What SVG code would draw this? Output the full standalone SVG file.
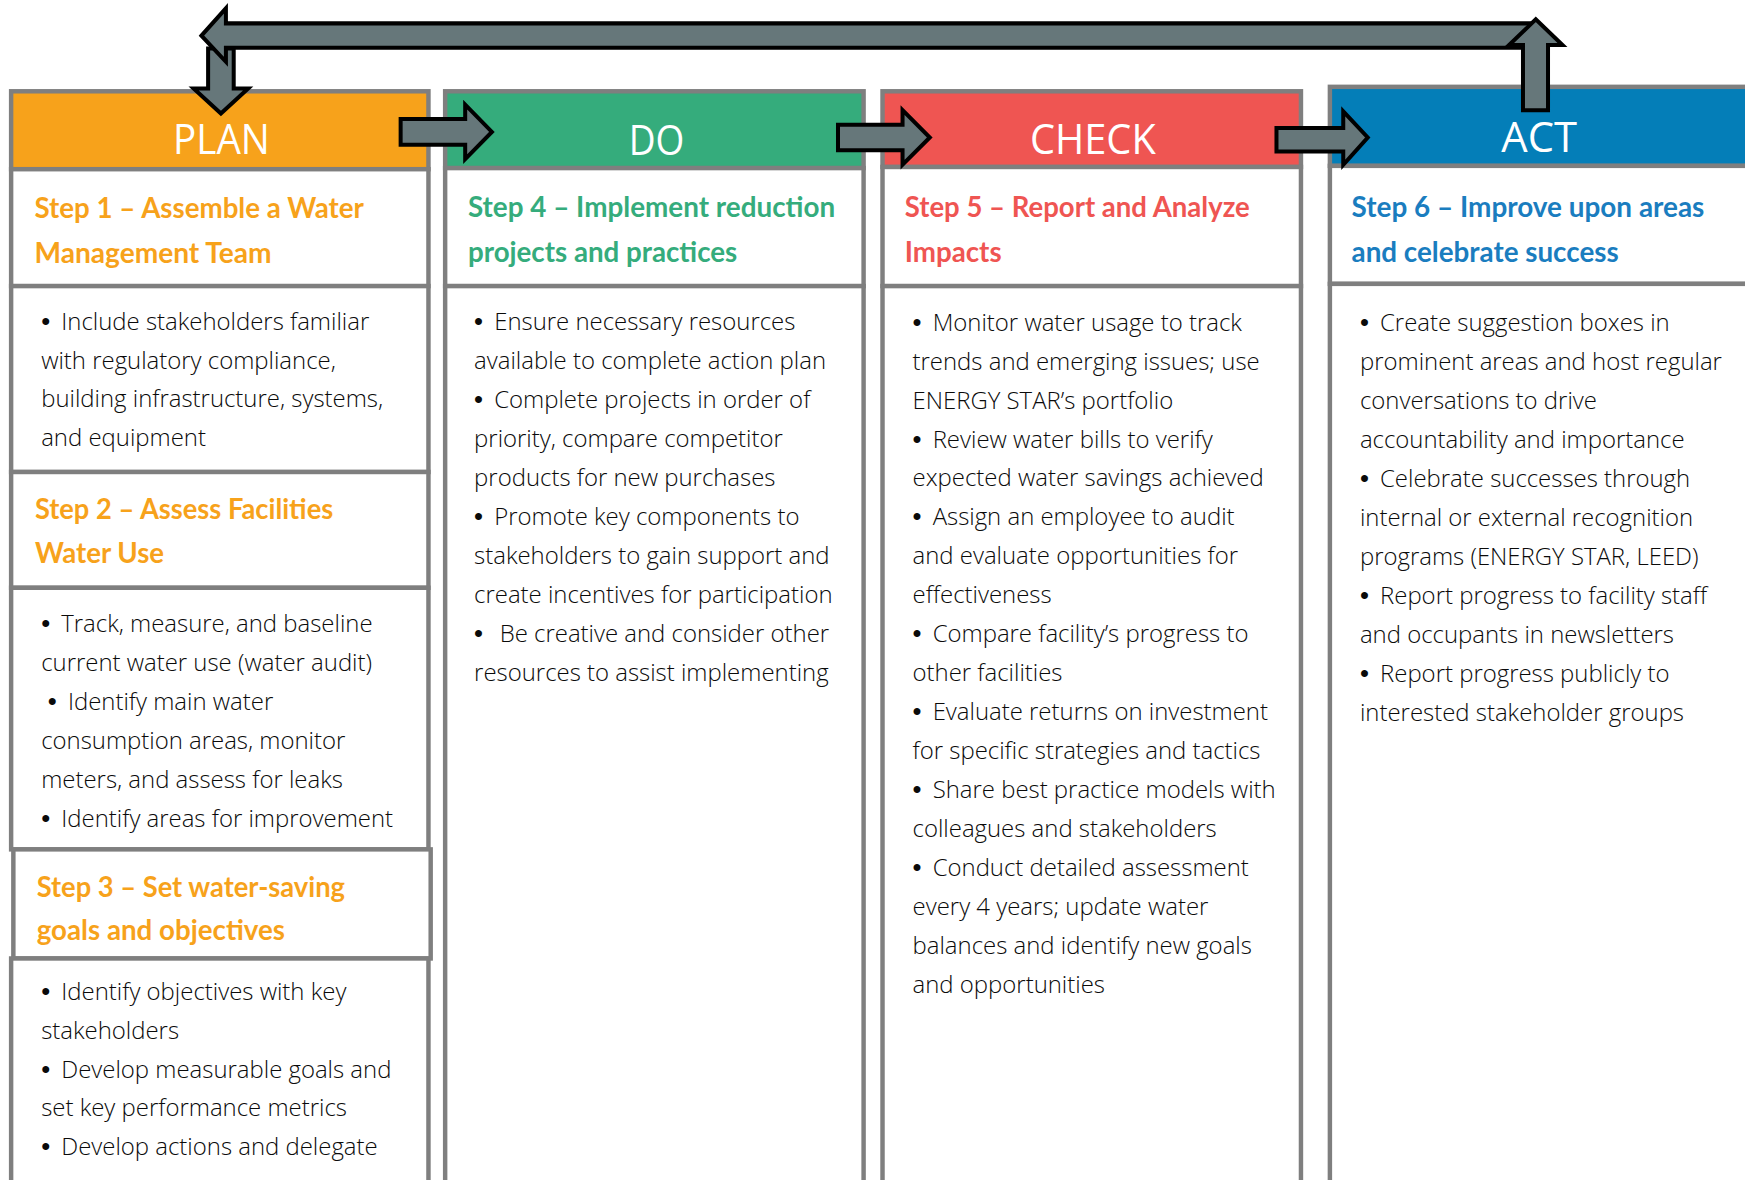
<svg xmlns="http://www.w3.org/2000/svg" width="1745" height="1180" viewBox="0 0 1745 1180">
<style>
.box{stroke:#7F7F7F;stroke-width:4;fill:#FFFFFF}
.hd{font-family:"Open Sans","Liberation Sans",sans-serif;font-size:38px;fill:#FFFFFF}
.st{font-family:Lato,"Liberation Sans",sans-serif;font-weight:700;font-size:25.5px}
.bd{font-family:"Open Sans","Liberation Sans",sans-serif;font-size:21.5px;font-weight:300;fill:#0A0A0A}
.bu{font-family:"Liberation Sans",Arial,sans-serif;font-size:23px;font-weight:400}
.arr{fill:#66777A;stroke:#000000;stroke-width:3.6;stroke-linejoin:miter}
.or{fill:#F7A21B}.gr{fill:#35AC7C}.rd{fill:#EF5552}.bl{fill:#1A7DBF}
</style>
<rect x="0" y="0" width="1745" height="1180" fill="#FFFFFF"/>
<g transform="scale(1.11288,1.11321)">
<g id="plan">
<rect class="box" x="10" y="82" width="375" height="70" style="fill:#F7A21B"/>
<rect class="box" x="10" y="152" width="375" height="105"/>
<rect class="box" x="10" y="257" width="375" height="167"/>
<rect class="box" x="10" y="424" width="375" height="104"/>
<rect class="box" x="10" y="528" width="375" height="235"/>
<rect class="box" x="12" y="763" width="375" height="98"/>
<rect class="box" x="10" y="861" width="375" height="205"/>
<text class="hd" x="155.5" y="138.5" textLength="87" lengthAdjust="spacingAndGlyphs">PLAN</text>
<text class="st or" x="31" y="196" textLength="296" lengthAdjust="spacingAndGlyphs">Step 1 – Assemble a Water</text>
<text class="st or" x="31" y="236.6" textLength="213" lengthAdjust="spacingAndGlyphs">Management Team</text>
<text class="bd" x="37" y="296.5"><tspan class="bu">•</tspan><tspan dx="10">Include stakeholders familiar</tspan></text>
<text class="bd" x="37" y="331.3">with regulatory compliance,</text>
<text class="bd" x="37" y="366">building infrastructure, systems,</text>
<text class="bd" x="37" y="400.8">and equipment</text>
<text class="st or" x="31.4" y="466.6" textLength="268" lengthAdjust="spacingAndGlyphs">Step 2 – Assess Facilities</text>
<text class="st or" x="31.4" y="506" textLength="116" lengthAdjust="spacingAndGlyphs">Water Use</text>
<text class="bd" x="37" y="567.6"><tspan class="bu">•</tspan><tspan dx="10">Track, measure, and baseline</tspan></text>
<text class="bd" x="37" y="602.6">current water use (water audit)</text>
<text class="bd" x="43" y="637.6"><tspan class="bu">•</tspan><tspan dx="10">Identify main water</tspan></text>
<text class="bd" x="37" y="672.6">consumption areas, monitor</text>
<text class="bd" x="37" y="707.6">meters, and assess for leaks</text>
<text class="bd" x="37" y="742.6"><tspan class="bu">•</tspan><tspan dx="10">Identify areas for improvement</tspan></text>
<text class="st or" x="33" y="805.5" textLength="277" lengthAdjust="spacingAndGlyphs">Step 3 – Set water-saving</text>
<text class="st or" x="33" y="844.5" textLength="223" lengthAdjust="spacingAndGlyphs">goals and objectives</text>
<text class="bd" x="37" y="898.4"><tspan class="bu">•</tspan><tspan dx="10">Identify objectives with key</tspan></text>
<text class="bd" x="37" y="933.2">stakeholders</text>
<text class="bd" x="37" y="968"><tspan class="bu">•</tspan><tspan dx="10">Develop measurable goals and</tspan></text>
<text class="bd" x="37" y="1002.8">set key performance metrics</text>
<text class="bd" x="37" y="1037.6"><tspan class="bu">•</tspan><tspan dx="10">Develop actions and delegate</tspan></text>
</g>
<g id="do">
<rect class="box" x="400" y="82" width="376" height="69" style="fill:#35AC7C"/>
<rect class="box" x="400" y="151" width="376" height="106"/>
<rect class="box" x="400" y="257" width="376" height="810"/>
<text class="hd" x="565" y="139" textLength="50" lengthAdjust="spacingAndGlyphs">DO</text>
<text class="st gr" x="420.5" y="195.3" textLength="330" lengthAdjust="spacingAndGlyphs">Step 4 – Implement reduction</text>
<text class="st gr" x="420.5" y="235" textLength="242" lengthAdjust="spacingAndGlyphs">projects and practices</text>
<text class="bd" x="426" y="296.5"><tspan class="bu">•</tspan><tspan dx="10">Ensure necessary resources</tspan></text>
<text class="bd" x="426" y="331.5">available to complete action plan</text>
<text class="bd" x="426" y="366.5"><tspan class="bu">•</tspan><tspan dx="10">Complete projects in order of</tspan></text>
<text class="bd" x="426" y="401.5">priority, compare competitor</text>
<text class="bd" x="426" y="436.5">products for new purchases</text>
<text class="bd" x="426" y="471.5"><tspan class="bu">•</tspan><tspan dx="10">Promote key components to</tspan></text>
<text class="bd" x="426" y="506.5">stakeholders to gain support and</text>
<text class="bd" x="426" y="541.5">create incentives for participation</text>
<text class="bd" x="426" y="576.5"><tspan class="bu">•</tspan><tspan dx="15">Be creative and consider other</tspan></text>
<text class="bd" x="426" y="611.5">resources to assist implementing</text>
</g>
<g id="check">
<rect class="box" x="793" y="82" width="376" height="68" style="fill:#EF5552"/>
<rect class="box" x="793" y="150" width="376" height="107"/>
<rect class="box" x="793" y="257" width="376" height="810"/>
<text class="hd" x="925.5" y="138.4" textLength="113" lengthAdjust="spacingAndGlyphs">CHECK</text>
<text class="st rd" x="813" y="195.3" textLength="310" lengthAdjust="spacingAndGlyphs">Step 5 – Report and Analyze</text>
<text class="st rd" x="813" y="235" textLength="87" lengthAdjust="spacingAndGlyphs">Impacts</text>
<text class="bd" x="820" y="297"><tspan class="bu">•</tspan><tspan dx="10">Monitor water usage to track</tspan></text>
<text class="bd" x="820" y="332">trends and emerging issues; use</text>
<text class="bd" x="820" y="367">ENERGY STAR’s portfolio</text>
<text class="bd" x="820" y="402"><tspan class="bu">•</tspan><tspan dx="10">Review water bills to verify</tspan></text>
<text class="bd" x="820" y="437">expected water savings achieved</text>
<text class="bd" x="820" y="472"><tspan class="bu">•</tspan><tspan dx="10">Assign an employee to audit</tspan></text>
<text class="bd" x="820" y="507">and evaluate opportunities for</text>
<text class="bd" x="820" y="542">effectiveness</text>
<text class="bd" x="820" y="577"><tspan class="bu">•</tspan><tspan dx="10">Compare facility’s progress to</tspan></text>
<text class="bd" x="820" y="612">other facilities</text>
<text class="bd" x="820" y="647"><tspan class="bu">•</tspan><tspan dx="10">Evaluate returns on investment</tspan></text>
<text class="bd" x="820" y="682">for specific strategies and tactics</text>
<text class="bd" x="820" y="717"><tspan class="bu">•</tspan><tspan dx="10">Share best practice models with</tspan></text>
<text class="bd" x="820" y="752">colleagues and stakeholders</text>
<text class="bd" x="820" y="787"><tspan class="bu">•</tspan><tspan dx="10">Conduct detailed assessment</tspan></text>
<text class="bd" x="820" y="822">every 4 years; update water</text>
<text class="bd" x="820" y="857">balances and identify new goals</text>
<text class="bd" x="820" y="892">and opportunities</text>
</g>
<g id="act">
<rect class="box" x="1195" y="78" width="380" height="71" style="fill:#047EB8"/>
<rect class="box" x="1195" y="149" width="380" height="106"/>
<rect class="box" x="1195" y="255" width="380" height="812"/>
<text class="hd" x="1349" y="136.3" textLength="68" lengthAdjust="spacingAndGlyphs">ACT</text>
<text class="st bl" x="1214.5" y="195" textLength="317" lengthAdjust="spacingAndGlyphs">Step 6 – Improve upon areas</text>
<text class="st bl" x="1214.5" y="235" textLength="240" lengthAdjust="spacingAndGlyphs">and celebrate success</text>
<text class="bd" x="1222" y="297.5"><tspan class="bu">•</tspan><tspan dx="10">Create suggestion boxes in</tspan></text>
<text class="bd" x="1222" y="332.5">prominent areas and host regular</text>
<text class="bd" x="1222" y="367.5">conversations to drive</text>
<text class="bd" x="1222" y="402.5">accountability and importance</text>
<text class="bd" x="1222" y="437.5"><tspan class="bu">•</tspan><tspan dx="10">Celebrate successes through</tspan></text>
<text class="bd" x="1222" y="472.5">internal or external recognition</text>
<text class="bd" x="1222" y="507.5">programs (ENERGY STAR, LEED)</text>
<text class="bd" x="1222" y="542.5"><tspan class="bu">•</tspan><tspan dx="10">Report progress to facility staff</tspan></text>
<text class="bd" x="1222" y="577.5">and occupants in newsletters</text>
<text class="bd" x="1222" y="612.5"><tspan class="bu">•</tspan><tspan dx="10">Report progress publicly to</tspan></text>
<text class="bd" x="1222" y="647.5">interested stakeholder groups</text>
</g>
<g id="connectors">
<polygon class="arr" points="360,107 418,107 418,94 442,118.5 418,143 418,130 360,130"/>
<polygon class="arr" points="753,112 811,112 811,99 835.5,123.5 811,148 811,135 753,135"/>
<polygon class="arr" points="1147,115 1207,115 1207,100 1229,123.5 1207,148 1207,136 1147,136"/>
<polygon class="arr" points="187,43.5 210,43.5 210,79.5 223,79.5 198.5,102 174,79.5 187,79.5"/>
<polygon class="arr" points="181,32 203,7.5 203,21 1379,21 1379,43 203,43 203,55.5"/>
<polygon class="arr" points="1368.5,99 1391,99 1391,40.4 1404,40.4 1380,17.4 1356,40.4 1368.5,40.4"/>
</g>
</g>
</svg>
